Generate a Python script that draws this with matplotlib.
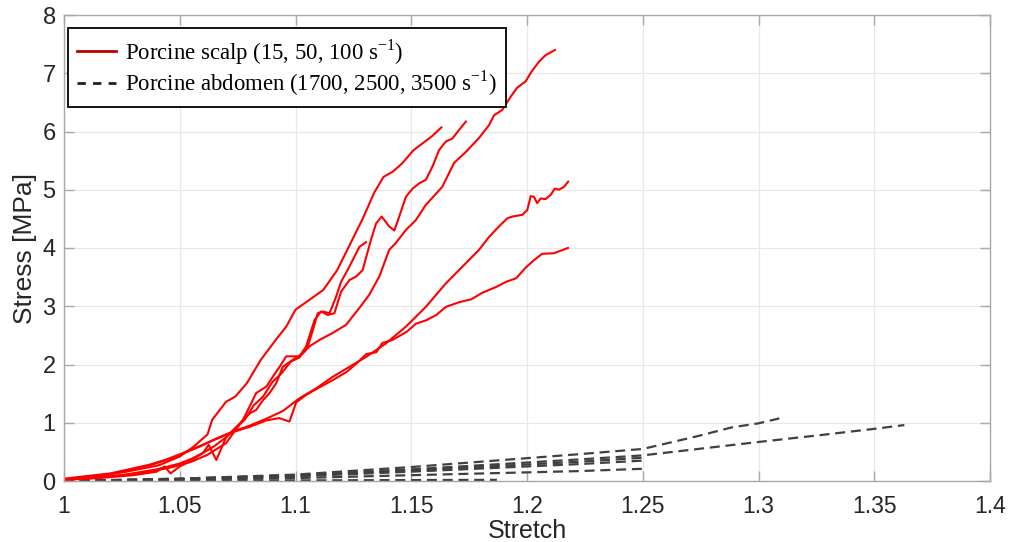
import matplotlib
matplotlib.use('Agg')
import matplotlib.pyplot as plt
from matplotlib.lines import Line2D

# scalp curves (red)
scalp_a_x = [1.0, 1.013, 1.027, 1.041, 1.05, 1.056, 1.062, 1.064, 1.070, 1.074, 1.079, 1.085, 1.092, 1.096,
             1.100, 1.106, 1.112, 1.118, 1.123, 1.129, 1.134, 1.138, 1.142, 1.146, 1.151, 1.155, 1.159, 1.163]
scalp_a_y = [0.02, 0.07, 0.16, 0.27, 0.42, 0.59, 0.80, 1.05, 1.36, 1.45, 1.68, 2.08, 2.45, 2.65,
             2.94, 3.11, 3.28, 3.62, 4.02, 4.50, 4.95, 5.22, 5.31, 5.45, 5.68, 5.80, 5.92, 6.07]

scalp_b_x = [1.0, 1.015, 1.03, 1.045, 1.055, 1.062, 1.070, 1.0773, 1.0802, 1.083, 1.0874, 1.0902, 1.0931, 1.096,
             1.1017, 1.1046, 1.1082, 1.111, 1.1139, 1.1168, 1.1197, 1.1233, 1.1262, 1.129, 1.1326, 1.1348, 1.1372,
             1.1405, 1.1427, 1.1448, 1.1477, 1.1506, 1.1534, 1.1563, 1.1592, 1.162, 1.165, 1.1678, 1.1707, 1.1736]
scalp_b_y = [0.02, 0.06, 0.12, 0.22, 0.33, 0.45, 0.65, 1.05, 1.28, 1.51, 1.62, 1.79, 1.96, 2.14,
             2.14, 2.31, 2.76, 2.91, 2.85, 2.88, 3.25, 3.45, 3.51, 3.62, 4.14, 4.42, 4.54,
             4.37, 4.30, 4.54, 4.88, 5.02, 5.11, 5.17, 5.40, 5.68, 5.83, 5.88, 6.03, 6.17]

scalp_c_x = [1.0, 1.025, 1.04, 1.05, 1.055, 1.06, 1.065, 1.07, 1.075, 1.0802, 1.083, 1.086, 1.0888, 1.0917,
             1.0945, 1.0988, 1.1032, 1.106, 1.1103, 1.116, 1.1218, 1.1276, 1.1319, 1.1362, 1.1405, 1.1434,
             1.1477, 1.152, 1.1563, 1.1634, 1.1685, 1.1736, 1.1793, 1.1836, 1.1858, 1.1893, 1.193, 1.1957,
             1.1994, 1.202, 1.2052, 1.208, 1.2121]
scalp_c_y = [0.02, 0.10, 0.20, 0.30, 0.38, 0.48, 0.60, 0.75, 0.95, 1.16, 1.22, 1.39, 1.51, 1.68,
             1.96, 2.08, 2.19, 2.31, 2.42, 2.54, 2.68, 2.97, 3.20, 3.51, 3.97, 4.09,
             4.31, 4.48, 4.74, 5.05, 5.46, 5.65, 5.89, 6.11, 6.28, 6.37, 6.60, 6.75,
             6.86, 7.03, 7.20, 7.31, 7.40]

scalp_d_x = [1.0, 1.015, 1.03, 1.040, 1.0435, 1.046, 1.05, 1.055, 1.060, 1.0625, 1.0658, 1.070, 1.074, 1.078,
             1.082, 1.086, 1.09, 1.094, 1.098, 1.1017, 1.1053, 1.1075, 1.1096, 1.1118, 1.1147, 1.1175, 1.1197,
             1.1218, 1.1247, 1.1276, 1.1305]
scalp_d_y = [0.02, 0.05, 0.10, 0.16, 0.25, 0.13, 0.25, 0.35, 0.48, 0.62, 0.36, 0.75, 0.90, 1.05,
             1.30, 1.45, 1.70, 1.85, 2.05, 2.12, 2.31, 2.59, 2.88, 2.91, 2.88, 3.16, 3.42,
             3.57, 3.79, 4.02, 4.10]

scalp_e_x = [1.0, 1.02, 1.037, 1.0443, 1.0514, 1.0586, 1.0658, 1.073, 1.0802, 1.0874, 1.0945, 1.1017, 1.1089,
             1.1161, 1.1233, 1.1305, 1.139, 1.1477, 1.1563, 1.1649, 1.1736, 1.1793, 1.1836, 1.1879, 1.1915,
             1.1937, 1.198, 1.2001, 1.2016, 1.203, 1.2044, 1.2059, 1.208, 1.2102, 1.212, 1.2138, 1.216, 1.2178]
scalp_e_y = [0.03, 0.12, 0.27, 0.36, 0.47, 0.59, 0.73, 0.85, 0.95, 1.07, 1.20, 1.42, 1.59,
             1.79, 1.96, 2.13, 2.36, 2.65, 2.99, 3.39, 3.74, 3.97, 4.19, 4.37, 4.51,
             4.54, 4.57, 4.65, 4.89, 4.88, 4.77, 4.85, 4.84, 4.91, 5.02, 5.00, 5.05, 5.14]

scalp_f_x = [1.0, 1.02, 1.037, 1.0443, 1.0514, 1.0586, 1.0658, 1.073, 1.0802, 1.0874, 1.093, 1.0974, 1.1003,
             1.1047, 1.110, 1.116, 1.122, 1.1267, 1.1306, 1.1349, 1.1375, 1.1418, 1.148, 1.152, 1.1565, 1.1608,
             1.165, 1.1707, 1.176, 1.1806, 1.1866, 1.191, 1.1953, 1.1996, 1.203, 1.2065, 1.2116, 1.2177]
scalp_f_y = [0.04, 0.13, 0.28, 0.37, 0.48, 0.60, 0.72, 0.84, 0.93, 1.04, 1.08, 1.02, 1.35,
             1.48, 1.60, 1.73, 1.87, 2.03, 2.18, 2.21, 2.37, 2.42, 2.56, 2.70, 2.76, 2.85,
             2.99, 3.07, 3.12, 3.23, 3.33, 3.42, 3.48, 3.67, 3.79, 3.90, 3.91, 4.00]

# abdomen curves (grey dashed)
abd_1_x = [1.0, 1.05, 1.1, 1.15, 1.2224, 1.25, 1.2737, 1.2884, 1.3, 1.309]
abd_1_y = [0.0, 0.04, 0.11, 0.24, 0.46, 0.55, 0.77, 0.92, 0.99, 1.075]
abd_2_x = [1.0, 1.05, 1.1, 1.15, 1.2224, 1.25, 1.3, 1.325, 1.351, 1.363]
abd_2_y = [0.0, 0.04, 0.10, 0.20, 0.37, 0.44, 0.67, 0.78, 0.90, 0.96]
abd_3_x = [1.0, 1.05, 1.1, 1.15, 1.2224, 1.25]
abd_3_y = [0.0, 0.03, 0.09, 0.18, 0.33, 0.40]
abd_4_x = [1.0, 1.05, 1.1, 1.15, 1.2224, 1.25]
abd_4_y = [0.0, 0.03, 0.08, 0.16, 0.29, 0.35]
abd_5_x = [1.0, 1.05, 1.1, 1.15, 1.2224, 1.25]
abd_5_y = [0.0, 0.02, 0.05, 0.10, 0.17, 0.21]
abd_6_x = [1.0, 1.1, 1.187]
abd_6_y = [0.0, 0.01, 0.02]

scalp = [(scalp_a_x, scalp_a_y), (scalp_b_x, scalp_b_y), (scalp_c_x, scalp_c_y),
         (scalp_d_x, scalp_d_y), (scalp_e_x, scalp_e_y), (scalp_f_x, scalp_f_y)]
abdomen = [(abd_1_x, abd_1_y), (abd_2_x, abd_2_y), (abd_3_x, abd_3_y),
           (abd_4_x, abd_4_y), (abd_5_x, abd_5_y), (abd_6_x, abd_6_y)]

x_ticks = [1, 1.05, 1.1, 1.15, 1.2, 1.25, 1.3, 1.35, 1.4]
x_tick_labels = ['1', '1.05', '1.1', '1.15', '1.2', '1.25', '1.3', '1.35', '1.4']
y_ticks = [0, 1, 2, 3, 4, 5, 6, 7, 8]

plt.rcParams['font.family'] = ['Liberation Sans', 'DejaVu Sans']

fig = plt.figure(figsize=(10.09, 5.42), dpi=100)
ax = fig.add_axes([64 / 1009, 61 / 542, 926 / 1009, 466 / 542])

for xs, ys in abdomen:
    ax.plot(xs, ys, color='#404040', lw=1.6, dashes=(4.5, 2.6))
for xs, ys in scalp:
    ax.plot(xs, ys, color='#ff0000', lw=1.5, solid_joinstyle='round')

ax.set_xlim(1, 1.4)
ax.set_ylim(0, 8)
ax.set_xticks(x_ticks)
ax.set_xticklabels(x_tick_labels)
ax.set_yticks(y_ticks)
ax.grid(True, color='#e8e8e8', lw=0.9)
ax.set_axisbelow(True)
for s in ax.spines.values():
    s.set_color('#a8a8a8')
    s.set_linewidth(1.0)
ax.tick_params(direction='in', length=7, width=1.0, color='#a8a8a8',
               top=True, right=True, labelsize=17, labelcolor='#262626')
ax.tick_params(axis='x', pad=10, labelsize=16.5)
ax.tick_params(axis='y', pad=6)
ax.set_xlabel('Stretch', fontsize=18, color='#262626', labelpad=1)
ax.set_ylabel('Stress [MPa]', fontsize=19, color='#262626', labelpad=4)

handles = [Line2D([], [], color='#c00000', lw=2.0),
           Line2D([], [], color='#202020', lw=2.0, dashes=(3.0, 2.6))]
labels = [r'Porcine scalp (15, 50, 100 s$^{\mathregular{-1}}$)',
          r'Porcine abdomen (1700, 2500, 3500 s$^{\mathregular{-1}}$)']
leg = ax.legend(handles, labels, loc='upper left', bbox_to_anchor=(0.004, 0.972),
                borderaxespad=0, fancybox=False, edgecolor='black', framealpha=1,
                prop={'family': 'Liberation Serif', 'size': 16.4}, handlelength=1.7,
                handletextpad=0.4, borderpad=0.4, labelspacing=0.08)
leg.get_frame().set_linewidth(1.3)

fig.savefig('out.png', dpi=100)
